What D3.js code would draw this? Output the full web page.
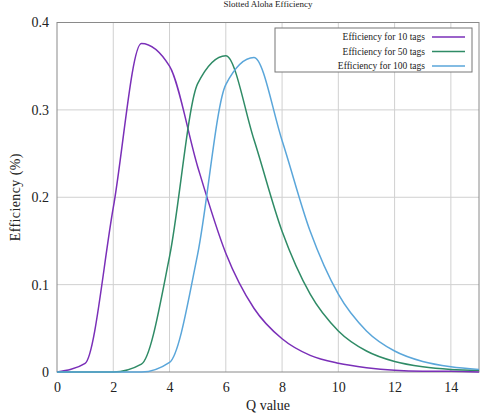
<!DOCTYPE html>
<html>
<head>
<meta charset="utf-8">
<style>
  body { margin: 0; background: #fff; }
  svg text { font-family: "Liberation Serif", "Times New Roman", "DejaVu Serif", serif; fill: #222; }
  .grid line { stroke: #d0d0d0; stroke-width: 1; }
  .axis path, .axis line { display: none; }
</style>
</head>
<body>
<div id="chart"></div>
<script src="https://cdn.jsdelivr.net/npm/d3@7"></script>
<script>
// Q values (x axis)
const qValues = [0, 1, 2, 3, 4, 5, 6, 7, 8, 9, 10, 11, 12, 13, 14, 15];
// efficiency
const eff10 = [0, 0.010, 0.188, 0.376, 0.350, 0.235, 0.136, 0.073, 0.038, 0.019, 0.010, 0.005, 0.002, 0.001, 0.001, 0.000];
const eff50 = [0, 0, 0, 0.009, 0.132, 0.330, 0.362, 0.266, 0.161, 0.089, 0.047, 0.024, 0.012, 0.006, 0.003, 0.002];
const eff100 = [0, 0, 0, 0, 0.011, 0.135, 0.329, 0.360, 0.265, 0.161, 0.089, 0.047, 0.024, 0.012, 0.006, 0.003];
const seriesNames = ['Efficiency for 10 tags', 'Efficiency for 50 tags', 'Efficiency for 100 tags'];
const xTicks = [0, 2, 4, 6, 8, 10, 12, 14];
const yTicks = [0, 0.1, 0.2, 0.3, 0.4];

const colors = ['#7a2fb8', '#2f8b66', '#5aa6da'];
const allSeries = [eff10, eff50, eff100];
const serif = '"Liberation Serif", "Times New Roman", serif';

const W = 488, H = 414;
const margin = {top: 22.5, right: 9, bottom: 42, left: 57};
const width = W - margin.left - margin.right;
const height = H - margin.top - margin.bottom;

const svg = d3.select('#chart').append('svg')
  .attr('width', W).attr('height', H);

const g = svg.append('g')
  .attr('transform', `translate(${margin.left},${margin.top})`);

const x = d3.scaleLinear().domain([0, 15]).range([0, width]);
const y = d3.scaleLinear().domain([0, 0.4]).range([height, 0]);

// grid
g.append('g').attr('class', 'grid')
  .selectAll('line').data(xTicks.filter(d => d > 0)).enter().append('line')
  .attr('x1', d => x(d)).attr('x2', d => x(d))
  .attr('y1', 0).attr('y2', height);
g.append('g').attr('class', 'grid')
  .selectAll('line').data(yTicks.filter(d => d > 0 && d < 0.4)).enter().append('line')
  .attr('x1', 0).attr('x2', width)
  .attr('y1', d => y(d)).attr('y2', d => y(d));

// frame
g.append('rect')
  .attr('width', width).attr('height', height)
  .attr('fill', 'none').attr('stroke', '#8a8a8a').attr('stroke-width', 1);

// axes
const xAxis = g.append('g').attr('class', 'axis')
  .attr('transform', `translate(0,${height})`)
  .call(d3.axisBottom(x).tickValues(xTicks).tickSize(0).tickPadding(10).tickFormat(d3.format('d')));
xAxis.attr('font-family', serif).attr('font-size', 14);
xAxis.selectAll('text').attr('fill', '#222');

const yAxis = g.append('g').attr('class', 'axis')
  .call(d3.axisLeft(y).tickValues(yTicks).tickSize(0).tickPadding(8).tickFormat(d => d === 0 ? '0' : d3.format('.1f')(d)));
yAxis.attr('font-family', serif).attr('font-size', 14);
yAxis.selectAll('text').attr('fill', '#222');

// lines
const line = d3.line()
  .x((d, i) => x(qValues[i]))
  .y(d => y(d))
  .curve(d3.curveMonotoneX);

allSeries.forEach((s, i) => {
  g.append('path')
    .datum(s)
    .attr('fill', 'none')
    .attr('stroke', colors[i])
    .attr('stroke-width', 1.5)
    .attr('d', line);
});

// title and labels
svg.append('text')
  .attr('x', margin.left + width / 2).attr('y', 7)
  .attr('text-anchor', 'middle')
  .style('font-size', '9px')
  .text('Slotted Aloha Efficiency');

svg.append('text')
  .attr('x', margin.left + width / 2).attr('y', 410)
  .attr('text-anchor', 'middle')
  .style('font-size', '14px')
  .text('Q value');

svg.append('text')
  .attr('transform', `translate(20,${margin.top + height / 2}) rotate(-90)`)
  .attr('text-anchor', 'middle')
  .style('font-size', '14px')
  .style('letter-spacing', '0.4px')
  .text('Efficiency (%)');

// legend
const lg = svg.append('g');
lg.append('rect')
  .attr('x', 275).attr('y', 28).attr('width', 197).attr('height', 44)
  .attr('fill', '#fff').attr('stroke', '#777').attr('stroke-width', 1);
seriesNames.forEach((name, i) => {
  const ly = 37 + i * 14.5;
  lg.append('text')
    .attr('x', 425).attr('y', ly + 3)
    .attr('text-anchor', 'end')
    .style('font-size', '9.5px')
    .text(name);
  lg.append('line')
    .attr('x1', 432).attr('x2', 465)
    .attr('y1', ly).attr('y2', ly)
    .attr('stroke', colors[i]).attr('stroke-width', 1.5);
});
</script>
</body>
</html>
